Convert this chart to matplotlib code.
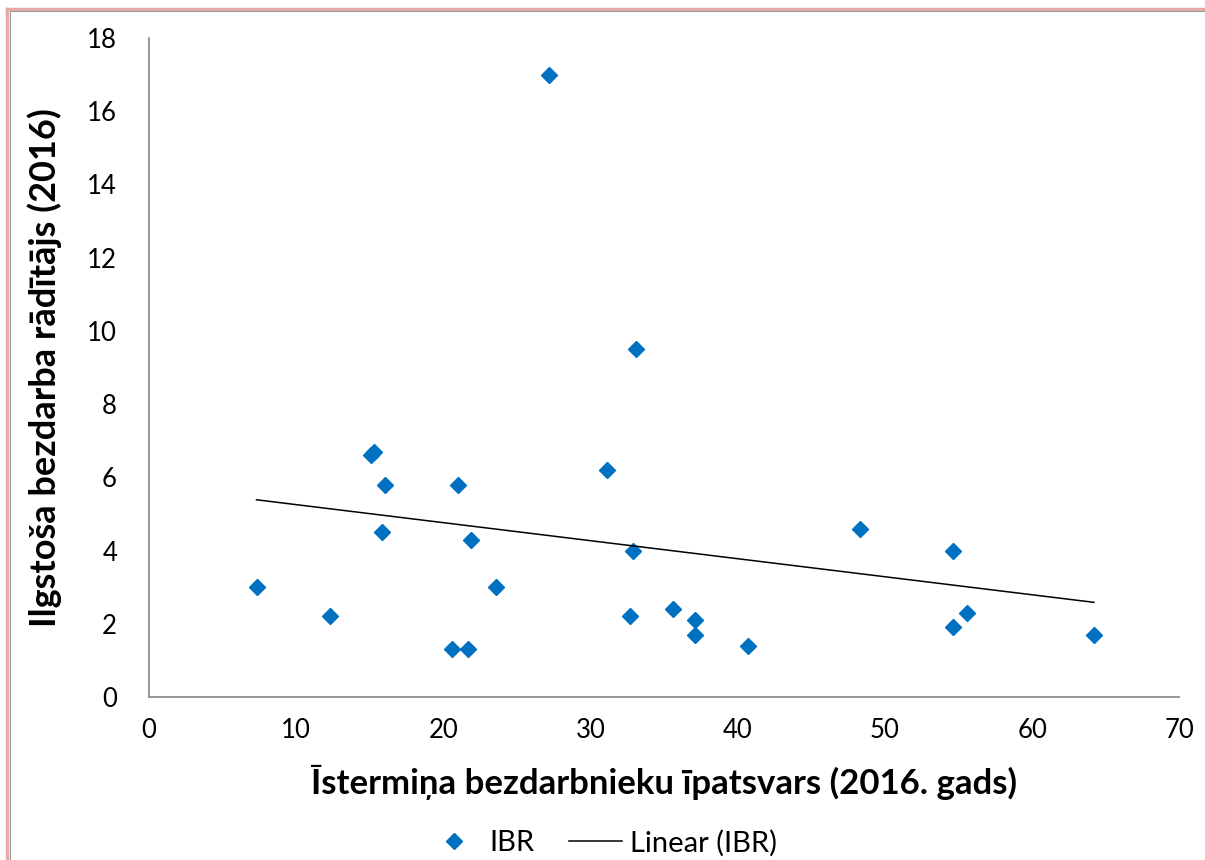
import numpy as np
import matplotlib.pyplot as plt
from matplotlib.lines import Line2D

plt.rcParams['font.family'] = ['Lato', 'DejaVu Sans']

# IBR data
x_share = [7.3, 12.3, 15.1, 15.3, 16.0, 15.8, 20.6, 21.0, 21.7, 21.9, 23.6,
           27.2, 31.1, 32.7, 32.9, 33.1, 35.6, 37.1, 37.1, 40.7, 48.3,
           54.6, 54.6, 55.6, 64.2]
y_ibr = [3.0, 2.2, 6.6, 6.7, 5.8, 4.5, 1.3, 5.8, 1.3, 4.3, 3.0,
         17.0, 6.2, 2.2, 4.0, 9.5, 2.4, 2.1, 1.7, 1.4, 4.6,
         4.0, 1.9, 2.3, 1.7]
xticks = list(range(0, 71, 10))
yticks = list(range(0, 19, 2))

fig = plt.figure(figsize=(12.05, 8.6), dpi=100)
ax = fig.add_axes([0.1237, 0.1895, 0.855, 0.7663])

blue = '#0070C0'
ax.plot(x_share, y_ibr, linestyle='none', marker='D', ms=8, color=blue)

# linear trendline over data range
k, b = np.polyfit(x_share, y_ibr, 1)
xt = np.array([min(x_share), max(x_share)])
ax.plot(xt, k * xt + b, color='black', lw=1.1)

ax.set_xlim(0, 70)
ax.set_ylim(0, 18)
ax.set_xticks(xticks)
ax.set_yticks(yticks)
ax.tick_params(length=0, labelsize=18.5)
ax.tick_params(axis='x', pad=15)
ax.tick_params(axis='y', pad=23)
for s in ['top', 'right']:
    ax.spines[s].set_visible(False)
for s in ['left', 'bottom']:
    ax.spines[s].set_color('#868686')
    ax.spines[s].set_linewidth(1.2)

ax.set_xlabel('Īstermiņa bezdarbnieku īpatsvars (2016. gads)', fontsize=25,
              fontweight='bold', labelpad=16)
ax.set_ylabel('Ilgstoša bezdarba rādītājs (2016)', fontsize=26,
              fontweight='bold', labelpad=18)

handles = [Line2D([], [], linestyle='none', marker='D', ms=8, color=blue),
           Line2D([], [], color='black', lw=1.1)]
fig.legend(handles, ['IBR', 'Linear (IBR)'], loc='center',
           bbox_to_anchor=(0.5, 0.02), ncol=2, frameon=False, fontsize=21,
           handlelength=1.8, columnspacing=1.2, handletextpad=0.3)

# pink frame at the top and left edge
fig.add_artist(Line2D([0.0062, 1], [0.9895, 0.9895], color='#E6A9AA', lw=2.5))
fig.add_artist(Line2D([0.0062, 0.0062], [0, 0.9895], color='#E6A9AA', lw=2.5))
fig.add_artist(Line2D([0.0085, 1], [0.9868, 0.9868], color='#9A9A9A', lw=0.8))
fig.add_artist(Line2D([0.0085, 0.0085], [0, 0.9868], color='#9A9A9A', lw=0.8))

fig.savefig('out.png', dpi=100)
